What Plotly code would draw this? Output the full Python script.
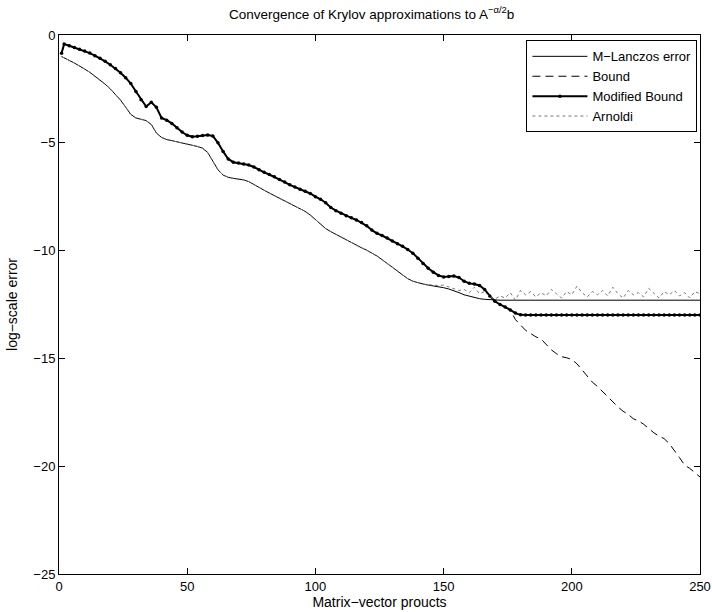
import plotly.graph_objects as go

# x grid: matrix-vector products
x_vals = [1] + list(range(2, 251, 2))

lanczos_y = [
    -1.0,
    -1.05, -1.18, -1.30, -1.43, -1.58, -1.73, -1.90, -2.08, -2.28, -2.50,      # 2-20
    -2.75, -3.02, -3.35, -3.68, -3.85, -3.92, -3.97, -4.15, -4.55, -4.75,      # 22-40
    -4.85, -4.90, -4.95, -5.00, -5.05, -5.10, -5.17, -5.25, -5.45, -5.85,      # 42-60
    -6.25, -6.50, -6.60, -6.65, -6.68, -6.72, -6.80, -6.92, -7.05, -7.20,      # 62-80
    -7.33, -7.45, -7.57, -7.70, -7.80, -7.92, -8.03, -8.18, -8.35, -8.55,      # 82-100
    -8.78, -8.98, -9.12, -9.25, -9.37, -9.50, -9.62, -9.75, -9.87, -9.98,      # 102-120
    -10.10, -10.25, -10.42, -10.60, -10.78, -10.95, -11.12, -11.30, -11.42, -11.50,  # 122-140
    -11.55, -11.60, -11.63, -11.67, -11.72, -11.78, -11.85, -11.95, -12.05, -12.12,  # 142-160
    -12.18, -12.23, -12.26, -12.28, -12.29, -12.30, -12.30, -12.30, -12.30, -12.30,  # 162-180
    -12.30, -12.30, -12.30, -12.30, -12.30, -12.30, -12.30, -12.30, -12.30, -12.30,  # 182-200
    -12.30, -12.30, -12.30, -12.30, -12.30, -12.30, -12.30, -12.30, -12.30, -12.30,  # 202-220
    -12.30, -12.30, -12.30, -12.30, -12.30, -12.30, -12.30, -12.30, -12.30, -12.30,  # 222-240
    -12.30, -12.30, -12.30, -12.30, -12.30,                                          # 242-250
]

modified_y = [
    -0.85,
    -0.42, -0.50, -0.58, -0.66, -0.74, -0.84, -0.96, -1.08, -1.22, -1.38,      # 2-20
    -1.55, -1.75, -1.98, -2.25, -2.62, -3.00, -3.32, -3.12, -3.35, -3.85,      # 22-40
    -3.95, -4.10, -4.30, -4.50, -4.65, -4.72, -4.70, -4.66, -4.64, -4.68,      # 42-60
    -5.00, -5.40, -5.75, -5.90, -5.94, -5.98, -6.03, -6.12, -6.25, -6.37,      # 62-80
    -6.47, -6.58, -6.70, -6.82, -6.95, -7.05, -7.15, -7.25, -7.35, -7.50,      # 82-100
    -7.62, -7.78, -8.00, -8.15, -8.27, -8.38, -8.48, -8.58, -8.70, -8.85,      # 102-120
    -9.05, -9.20, -9.30, -9.42, -9.55, -9.68, -9.80, -9.95, -10.12, -10.35,    # 122-140
    -10.60, -10.82, -11.00, -11.15, -11.22, -11.20, -11.18, -11.25, -11.42, -11.52,  # 142-160
    -11.55, -11.62, -11.80, -12.10, -12.35, -12.50, -12.62, -12.75, -12.90, -12.98,  # 162-180
    -12.99, -12.99, -12.99, -12.99, -12.99, -12.99, -12.99, -12.99, -12.99, -12.99,  # 182-200
    -12.99, -12.99, -12.99, -12.99, -12.99, -12.99, -12.99, -12.99, -12.99, -12.99,  # 202-220
    -12.99, -12.99, -12.99, -12.99, -12.99, -12.99, -12.99, -12.99, -12.99, -12.99,  # 222-240
    -12.99, -12.99, -12.99, -12.99, -12.99,                                          # 242-250
]

# Bound coincides with the modified bound up to x=176, then keeps falling
bound_tail = [                                                               # 178-250
    -13.20, -13.45, -13.70, -13.85, -14.00, -14.10, -14.35, -14.60, -14.78, -14.92,
    -14.97, -15.05, -15.25, -15.55, -15.85, -16.10, -16.30, -16.55, -16.80, -17.00,
    -17.25, -17.45, -17.60, -17.80, -17.90, -18.05, -18.25, -18.45, -18.60, -18.72,
    -18.95, -19.25, -19.60, -19.95, -20.10, -20.30, -20.50,
]
bound_y = modified_y[:89] + bound_tail

# Arnoldi coincides with M-Lanczos up to x=140, then stagnates noisily
arnoldi_tail = [                                                             # 142-250
    -11.55, -11.58, -11.60, -11.62, -11.60, -11.68, -11.75, -11.85, -11.80, -11.95,
    -11.70, -12.00, -11.90, -12.15, -12.25, -12.10, -12.20, -11.95, -12.30, -11.85,
    -12.05, -11.90, -12.15, -11.95, -12.10, -11.80, -12.00, -12.20, -11.90, -12.05,
    -11.65, -11.95, -12.15, -11.90, -12.05, -11.85, -12.10, -11.70, -12.00, -12.20,
    -11.85, -12.05, -11.95, -12.15, -11.75, -12.00, -12.20, -11.90, -12.05, -11.85,
    -12.10, -11.95, -12.20, -11.90, -12.00,
]
arnoldi_y = lanczos_y[:71] + arnoldi_tail

x_ticks = [0, 50, 100, 150, 200, 250]
y_ticks = [-25, -20, -15, -10, -5, 0]

FONT = "Liberation Sans, Arial, Helvetica, sans-serif"

fig = go.Figure()
fig.add_trace(go.Scatter(x=x_vals, y=lanczos_y, mode="lines", name="M\u2212Lanczos error",
                         line=dict(color="black", width=1)))
fig.add_trace(go.Scatter(x=x_vals, y=bound_y, mode="lines", name="Bound",
                         line=dict(color="black", width=1, dash="8px,5px")))
fig.add_trace(go.Scatter(x=x_vals, y=modified_y, mode="lines+markers", name="Modified Bound",
                         line=dict(color="black", width=2),
                         marker=dict(color="black", size=3.5, symbol="circle")))
fig.add_trace(go.Scatter(x=x_vals, y=arnoldi_y, mode="lines", name="Arnoldi",
                         line=dict(color="#777777", width=1, dash="dot")))

axis_common = dict(showgrid=False, zeroline=False, showline=True, linecolor="black",
                   linewidth=1, mirror="ticks", ticks="inside", ticklen=6,
                   tickcolor="black", automargin=False,
                   tickfont=dict(size=13, color="black", family=FONT))

fig.update_layout(
    width=712, height=612,
    margin=dict(l=59, r=12, t=35, b=38),
    paper_bgcolor="white", plot_bgcolor="white",
    font=dict(family=FONT, color="black"),
    title=dict(text="Convergence of Krylov approximations to A<sup>\u2212\u03b1/2</sup>b",
               x=0.522, xanchor="center", y=0.985, yanchor="top",
               font=dict(size=13.5, color="black", family=FONT)),
    xaxis=dict(range=[0, 250], tickvals=x_ticks,
               title=dict(text="Matrix\u2212vector proucts", standoff=1,
                          font=dict(size=14, family=FONT)), **axis_common),
    yaxis=dict(range=[-25, 0], tickvals=y_ticks,
               ticktext=["\u221225", "\u221220", "\u221215", "\u221210", "\u22125", "0"],
               title=dict(text="log\u2212scale error", standoff=12,
                          font=dict(size=14, family=FONT)), **axis_common),
    legend=dict(x=0.996, y=0.99, xanchor="right", yanchor="top",
                bgcolor="white", bordercolor="black", borderwidth=1,
                font=dict(size=13, color="black", family=FONT),
                tracegroupgap=0, itemwidth=55),
    showlegend=True,
)

fig.write_html("out.html")
